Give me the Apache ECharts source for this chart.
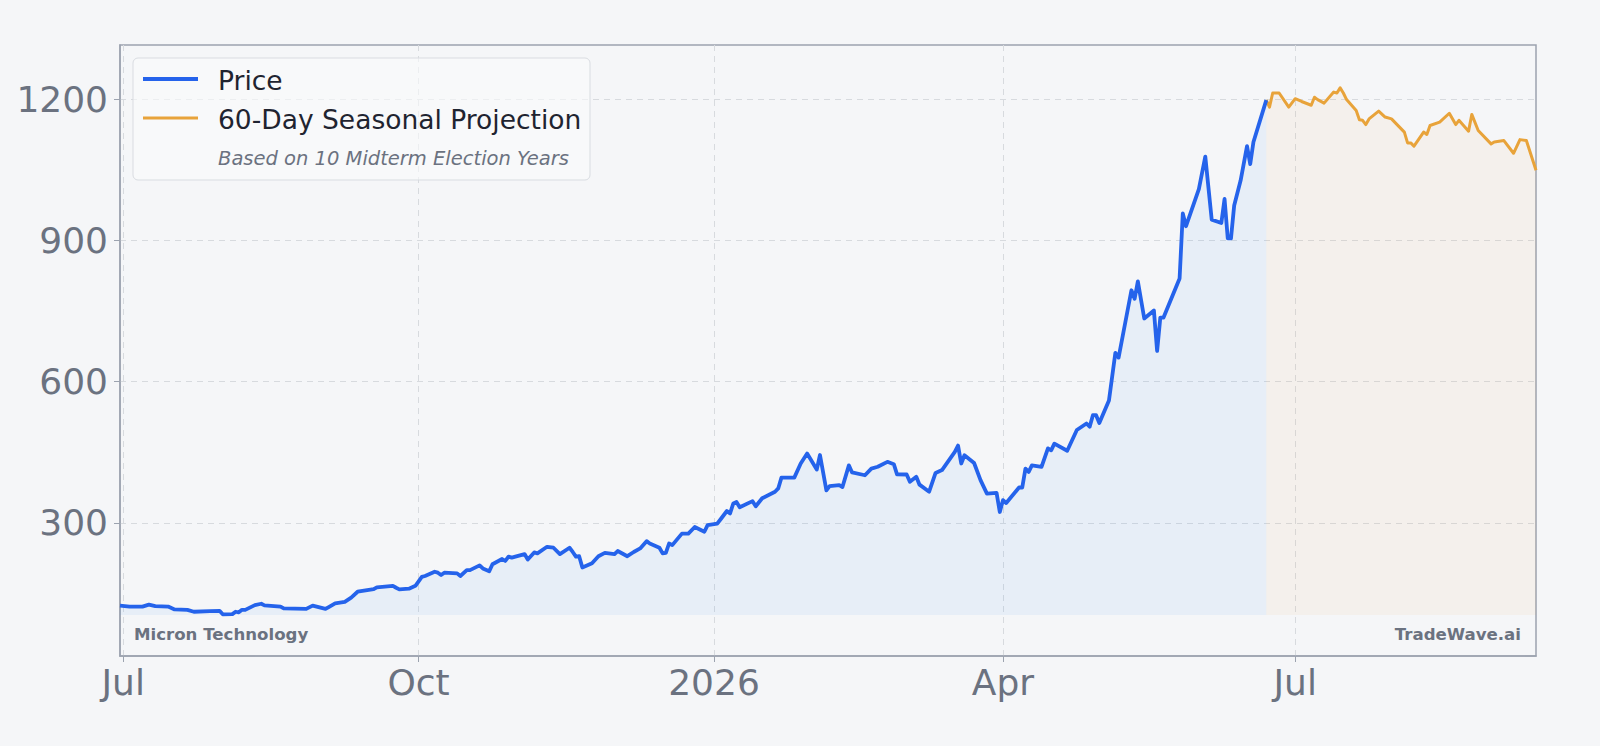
<!DOCTYPE html>
<html>
<head>
<meta charset="utf-8">
<script src="https://cdn.jsdelivr.net/npm/echarts@6/dist/echarts.min.js"></script>
<style>
html,body{margin:0;padding:0;background:#f5f6f8;}
#chart{width:1600px;height:746px;}
</style>
</head>
<body>
<div id="chart"></div>
<script>
// ---- data ----
const priceDates = ['2025-06-30','2025-07-03','2025-07-07','2025-07-09','2025-07-11','2025-07-15','2025-07-17','2025-07-21','2025-07-23','2025-07-28','2025-07-31','2025-08-01','2025-08-04','2025-08-05','2025-08-06','2025-08-07','2025-08-08','2025-08-11','2025-08-13','2025-08-14','2025-08-19','2025-08-20','2025-08-27','2025-08-29','2025-09-02','2025-09-03','2025-09-05','2025-09-08','2025-09-10','2025-09-12','2025-09-15','2025-09-17','2025-09-18','2025-09-23','2025-09-24','2025-09-25','2025-09-28','2025-09-30','2025-10-02','2025-10-03','2025-10-06','2025-10-07','2025-10-08','2025-10-09','2025-10-13','2025-10-14','2025-10-16','2025-10-17','2025-10-20','2025-10-21','2025-10-23','2025-10-24','2025-10-27','2025-10-28','2025-10-29','2025-10-30','2025-11-03','2025-11-04','2025-11-06','2025-11-07','2025-11-10','2025-11-12','2025-11-14','2025-11-17','2025-11-18','2025-11-19','2025-11-20','2025-11-21','2025-11-24','2025-11-26','2025-11-28','2025-12-01','2025-12-02','2025-12-05','2025-12-07','2025-12-09','2025-12-11','2025-12-12','2025-12-15','2025-12-16','2025-12-17','2025-12-18','2025-12-19','2025-12-22','2025-12-24','2025-12-26','2025-12-29','2025-12-30','2025-12-31','2026-01-02','2026-01-03','2026-01-05','2026-01-06','2026-01-07','2026-01-08','2026-01-09','2026-01-13','2026-01-14','2026-01-16','2026-01-20','2026-01-21','2026-01-22','2026-01-26','2026-01-28','2026-01-30','2026-02-02','2026-02-03','2026-02-05','2026-02-06','2026-02-09','2026-02-10','2026-02-12','2026-02-13','2026-02-17','2026-02-19','2026-02-21','2026-02-24','2026-02-26','2026-02-27','2026-03-02','2026-03-03','2026-03-05','2026-03-06','2026-03-09','2026-03-11','2026-03-13','2026-03-17','2026-03-18','2026-03-19','2026-03-20','2026-03-23','2026-03-25','2026-03-27','2026-03-30','2026-03-31','2026-04-01','2026-04-02','2026-04-06','2026-04-07','2026-04-08','2026-04-09','2026-04-10','2026-04-13','2026-04-15','2026-04-16','2026-04-17','2026-04-21','2026-04-24','2026-04-27','2026-04-28','2026-04-29','2026-04-30','2026-05-01','2026-05-04','2026-05-06','2026-05-07','2026-05-11','2026-05-12','2026-05-13','2026-05-15','2026-05-18','2026-05-19','2026-05-20','2026-05-21','2026-05-26','2026-05-27','2026-05-28','2026-06-01','2026-06-03','2026-06-05','2026-06-08','2026-06-09','2026-06-10','2026-06-11','2026-06-12','2026-06-14','2026-06-16','2026-06-17','2026-06-18','2026-06-22'];
const priceValues = [124,122,122,126,123,122,116,115,111,112.5,113,105.5,106,111,109.7,115,115,125,128,124.5,122,118,117,124,117,121,129,132,141,153.5,157,159,163,166,162,158.5,160,166,185,187,196,194,189,194,192.5,187,199.5,199.5,209.5,203,197,212,223,219,228,226,233.5,222,237,235,249,247,233.5,247,238,228,229,205,214,229,236,233.5,240,229,238,245.5,261,256,247,235,236,256,252.5,277,277,291,281,295,296,298,307,325,320,341,344,333,346,335,352,366,373,396,396,426,447,413,444,369,378,380,376,422,407,401,415,419,429.5,424.5,403,402.6,387,397.6,381,366,406,412,450.6,464,426,443.6,427,390.6,362,363.6,323,348,342,375,375,415,408,422,419,458,454,468,453,497,511,504,528.5,528.5,512,560,661,651,794,776,813,734,751,665,736,736,819,957,930,1009,1078,944,937,988,904,904,974,1027,1100,1062,1109,1198];

const projDates = ['2026-06-22','2026-06-23','2026-06-24','2026-06-26','2026-06-29','2026-07-01','2026-07-03','2026-07-06','2026-07-07','2026-07-08','2026-07-10','2026-07-13','2026-07-14','2026-07-15','2026-07-16','2026-07-17','2026-07-20','2026-07-21','2026-07-22','2026-07-23','2026-07-24','2026-07-27','2026-07-29','2026-07-31','2026-08-04','2026-08-05','2026-08-06','2026-08-07','2026-08-10','2026-08-11','2026-08-12','2026-08-15','2026-08-18','2026-08-20','2026-08-21','2026-08-24','2026-08-25','2026-08-27','2026-08-31','2026-09-01','2026-09-04','2026-09-07','2026-09-09','2026-09-11','2026-09-14'];
const projValues = [1198,1183,1213,1213,1183,1201,1195,1187,1204,1199,1191.5,1215,1213,1224,1213,1199,1176,1156,1155,1146,1158,1174.5,1162,1158,1130,1107,1107,1100,1130,1125,1144,1151,1170,1146,1155,1132,1167.5,1133.5,1105,1109,1112,1085,1114,1112,1049];

const yTickValues = [300, 600, 900, 1200];
const yTickLabels = ['300', '600', '900', '1200'];
const xTickDates = ['2025-07-01','2025-10-01','2026-01-01','2026-04-01','2026-07-01'];
const xTickLabels = ['Jul','Oct','2026','Apr','Jul'];
const legendTitles = ['Price','60-Day Seasonal Projection'];
const legendNote = 'Based on 10 Midterm Election Years';
const companyName = 'Micron Technology';
const brandName = 'TradeWave.ai';
const xRange = ['2025-06-30','2026-09-14'];
const yRange = [17, 1315];
const fillBase = 104;

// ---- chart ----
const FONT = '"DejaVu Sans", sans-serif';
const BLUE = '#2563eb';
const ORANGE = '#e8a33a';
const GRAY = '#6b7280';
const parse = s => Date.parse(s + 'T00:00:00Z');
const xTickTs = xTickDates.map(parse);

const chart = echarts.init(document.getElementById('chart'), null, {renderer: 'svg'});
const option = {
  animation: false,
  backgroundColor: '#f5f6f8',
  textStyle: {fontFamily: FONT},
  grid: {left: 120, top: 45, right: 64, bottom: 90, show: true, borderColor: '#9ca3af', borderWidth: 1.5, backgroundColor: 'transparent'},
  xAxis: {
    type: 'value',
    min: parse(xRange[0]),
    max: parse(xRange[1]),
    axisLine: {show: true, onZero: false, lineStyle: {color: '#9ca3af', width: 1.5}},
    axisTick: {show: true, length: 6, lineStyle: {color: '#9ca3af', width: 1}, customValues: xTickTs},
    axisLabel: {
      customValues: xTickTs,
      fontSize: 36, color: GRAY, margin: 8, fontFamily: FONT,
      formatter: v => { const i = xTickTs.indexOf(v); return i >= 0 ? xTickLabels[i] : ''; }
    },
    splitLine: {show: true, lineStyle: {color: '#d7dade', type: [6, 5], width: 1}}
  },
  yAxis: {
    type: 'value',
    min: yRange[0],
    max: yRange[1],
    axisLine: {show: true, onZero: false, lineStyle: {color: '#9ca3af', width: 1.5}},
    axisTick: {show: true, length: 6, lineStyle: {color: '#9ca3af', width: 1}, customValues: yTickValues},
    axisLabel: {
      customValues: yTickValues, fontSize: 36, color: GRAY, margin: 12, fontFamily: FONT,
      formatter: v => { const i = yTickValues.indexOf(v); return i >= 0 ? yTickLabels[i] : ''; }
    },
    splitLine: {show: true, lineStyle: {color: '#d7dade', type: [6, 5], width: 1}}
  },
  series: [
    {
      name: legendTitles[0], type: 'line', showSymbol: false, symbol: 'none',
      data: priceDates.map((d, i) => [parse(d), priceValues[i]]),
      lineStyle: {color: BLUE, width: 3.8, join: 'round'},
      itemStyle: {color: BLUE},
      areaStyle: {color: 'rgba(55,146,238,0.1)', origin: fillBase},
      z: 3
    },
    {
      name: legendTitles[1], type: 'line', showSymbol: false, symbol: 'none',
      data: projDates.map((d, i) => [parse(d), projValues[i]]),
      lineStyle: {color: ORANGE, width: 3, join: 'round'},
      itemStyle: {color: ORANGE},
      areaStyle: {color: 'rgba(232,163,58,0.09)', origin: fillBase},
      z: 2
    }
  ],
  graphic: [
    {type: 'rect', shape: {x: 133, y: 58, width: 457, height: 122, r: 5},
     style: {fill: 'rgba(250,251,252,0.6)', stroke: '#d9dce1', lineWidth: 1}, z: 10},
    {type: 'line', shape: {x1: 143, y1: 79, x2: 198, y2: 79}, style: {stroke: BLUE, lineWidth: 3.8}, z: 11},
    {type: 'line', shape: {x1: 143, y1: 118, x2: 198, y2: 118}, style: {stroke: ORANGE, lineWidth: 3}, z: 11},
    {type: 'text', x: 218, y: 80, style: {text: legendTitles[0], font: '26.5px ' + FONT, fill: '#1f2430', verticalAlign: 'middle'}, z: 11},
    {type: 'text', x: 218, y: 119, style: {text: legendTitles[1], font: '26.5px ' + FONT, fill: '#1f2430', verticalAlign: 'middle'}, z: 11},
    {type: 'text', x: 218, y: 158, style: {text: legendNote, font: 'italic 19.5px ' + FONT, fill: GRAY, verticalAlign: 'middle'}, z: 11},
    {type: 'text', x: 134, y: 634, style: {text: companyName, font: 'bold 16.6px ' + FONT, fill: GRAY, verticalAlign: 'middle'}, z: 11},
    {type: 'text', x: 1521, y: 634, style: {text: brandName, font: 'bold 16.6px ' + FONT, fill: GRAY, verticalAlign: 'middle', align: 'right'}, z: 11}
  ]
};
chart.setOption(option);
</script>
</body>
</html>
